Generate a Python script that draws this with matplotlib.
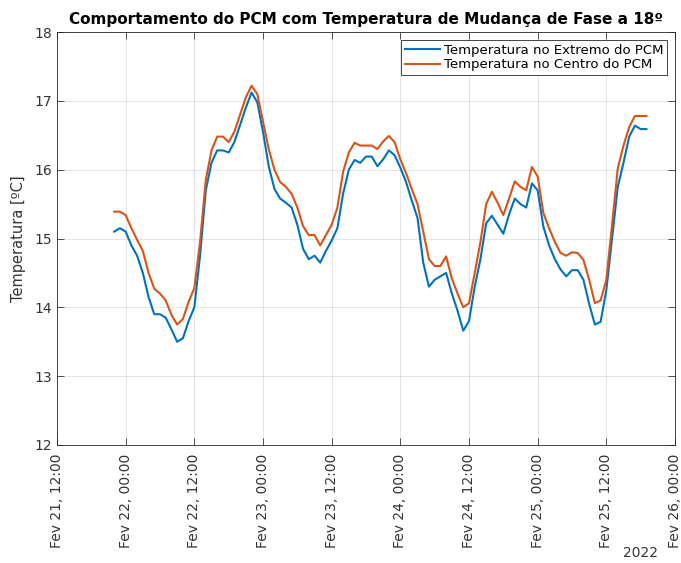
import pandas as pd
import matplotlib
matplotlib.use("Agg")
import matplotlib.pyplot as plt
from matplotlib.ticker import FuncFormatter, MultipleLocator
import matplotlib.dates as mdates

# leituras horárias a partir de 21/02/2022 22:00
t_extremo = [15.10, 15.15, 15.10, 14.90, 14.75, 14.50, 14.15, 13.90, 13.90, 13.85,
             13.68, 13.50, 13.55, 13.80, 14.00, 14.75, 15.70, 16.10, 16.28, 16.28,
             16.25, 16.40, 16.65, 16.90, 17.12, 16.98, 16.55, 16.05, 15.72, 15.58,
             15.52, 15.45, 15.20, 14.85, 14.70, 14.75, 14.65, 14.82, 14.97, 15.15,
             15.65, 16.00, 16.14, 16.10, 16.19, 16.19, 16.05, 16.15, 16.28, 16.21,
             16.03, 15.82, 15.55, 15.30, 14.65, 14.30, 14.40, 14.45, 14.50, 14.20,
             13.95, 13.66, 13.80, 14.30, 14.70, 15.22, 15.33, 15.20, 15.07, 15.35,
             15.58, 15.50, 15.45, 15.80, 15.70, 15.17, 14.90, 14.70, 14.55, 14.45,
             14.54, 14.54, 14.40, 14.05, 13.75, 13.79, 14.25, 15.00, 15.75, 16.10,
             16.48, 16.64, 16.59, 16.59]
t_centro = [15.39, 15.39, 15.34, 15.15, 14.98, 14.82, 14.50, 14.27, 14.20, 14.10,
            13.89, 13.75, 13.83, 14.08, 14.28, 14.95, 15.85, 16.28, 16.48, 16.48,
            16.40, 16.55, 16.80, 17.05, 17.22, 17.10, 16.70, 16.30, 16.00, 15.82,
            15.75, 15.65, 15.45, 15.18, 15.05, 15.05, 14.90, 15.05, 15.20, 15.45,
            15.97, 16.25, 16.39, 16.35, 16.35, 16.35, 16.30, 16.41, 16.49, 16.40,
            16.15, 15.95, 15.72, 15.50, 15.10, 14.70, 14.60, 14.60, 14.74, 14.42,
            14.20, 14.00, 14.06, 14.50, 14.95, 15.50, 15.68, 15.52, 15.34, 15.58,
            15.83, 15.75, 15.70, 16.04, 15.90, 15.37, 15.15, 14.95, 14.79, 14.75,
            14.80, 14.79, 14.69, 14.40, 14.06, 14.10, 14.40, 15.20, 16.02, 16.35,
            16.62, 16.78, 16.78, 16.78]
tempo = pd.date_range("2022-02-21 22:00", periods=len(t_extremo), freq="h")

azul = "#0072BD"
laranja = "#D95319"
cinza = "#333333"

fig = plt.figure(figsize=(6.81, 5.63), dpi=100)
ax = fig.add_axes([57 / 681, 1 - 445 / 563, 618 / 681, 413 / 563])

ax.plot(tempo, t_extremo, color=azul, lw=1.5, label="Temperatura no Extremo do PCM")
ax.plot(tempo, t_centro, color=laranja, lw=1.5, label="Temperatura no Centro do PCM")

ax.set_xlim(pd.Timestamp("2022-02-21 12:00"), pd.Timestamp("2022-02-26 00:00"))
ax.set_ylim(12, 18)
ax.xaxis.set_major_locator(mdates.HourLocator(byhour=[0, 12]))
ax.xaxis.set_major_formatter(FuncFormatter(
    lambda v, pos: "Fev %d, %s" % (mdates.num2date(v).day, mdates.num2date(v).strftime("%H:%M"))))
ax.yaxis.set_major_locator(MultipleLocator(1))

ax.tick_params(direction="in", top=True, right=True, length=5, width=0.6,
               colors=cinza, labelsize=10, labelcolor=cinza)
ax.tick_params(axis="x", labelrotation=90, pad=6)
for s in ax.spines.values():
    s.set_color("#262626")
    s.set_linewidth(0.6)
ax.grid(True, color="#000000", alpha=0.12, lw=0.6)

ax.set_ylabel("Temperatura [ºC]", color=cinza, fontsize=10.5, labelpad=6)
ax.set_title("Comportamento do PCM com Temperatura de Mudança de Fase a 18º",
             fontsize=11, fontweight="bold", color="black", pad=6)
fig.text(640 / 681, 1 - 553 / 563, "2022", ha="center", va="center",
         fontsize=10, color=cinza)

leg = ax.legend(loc="upper right", fontsize=9.5, handlelength=2.6, handletextpad=0.3,
                borderpad=0.3, labelspacing=0.1, fancybox=False, framealpha=1,
                borderaxespad=0.6)
leg.get_frame().set_edgecolor("#262626")
leg.get_frame().set_linewidth(0.6)

fig.savefig("out.png", dpi=100)
